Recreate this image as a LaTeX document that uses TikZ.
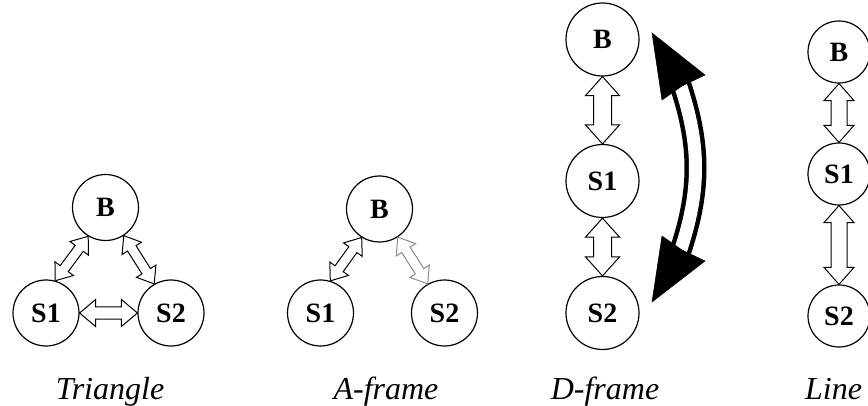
\documentclass[tikz,border=0pt]{standalone}
\usepackage{fontspec}
\setmainfont{Liberation Serif}
\usetikzlibrary{calc}
\newcommand\dblarr[6]{%
  \path (#2) coordinate (da) (#3) coordinate (db);
  \coordinate (dah) at ($(da)!#6!(db)$);
  \coordinate (dbh) at ($(db)!#6!(da)$);
  \draw[#1] (da) -- ($(dah)!#5!90:(db)$) -- ($(dah)!#4!90:(db)$)
    -- ($(dbh)!#4!-90:(da)$) -- ($(dbh)!#5!-90:(da)$) -- (db)
    -- ($(dbh)!#5!90:(da)$) -- ($(dbh)!#4!90:(da)$)
    -- ($(dah)!#4!-90:(db)$) -- ($(dah)!#5!-90:(db)$) -- cycle;
}
\tikzset{
  st/.style={circle, draw, line width=1.2pt, inner sep=0pt, minimum size=66pt,
    font=\fontsize{28}{28}\selectfont\bfseries},
  stbig/.style={st, minimum size=73pt},
  stsmall/.style={st, minimum size=62pt},
  arr/.style={draw=black, fill=white, line width=1pt, line join=miter},
  arrgray/.style={draw=black!45, fill=white, line width=1pt, line join=miter},
  lab/.style={font=\fontsize{32}{32}\selectfont\itshape, anchor=base, inner sep=0pt},
  bigshaft/.style={line width=4.5pt, double=white, double distance=13pt},
  bighead/.style={fill=black, draw=black, line width=0.5pt, line join=miter}
}
\begin{document}
\begin{tikzpicture}[x=1pt,y=-1pt]
\useasboundingbox (0,0) rectangle (868,406);
% Triangle
\node[st] (tB) at (105.5,207.5) {B};
\node[st] (tS1) at (46,313) {S1};
\node[st] (tS2) at (171,313) {S2};
\dblarr{arr}{tS1.74}{tB.239}{5pt}{11.5pt}{15pt}
\dblarr{arr}{tB.303}{tS2.120}{5pt}{11.5pt}{15pt}
\dblarr{arr}{tS1.0}{tS2.180}{6pt}{13.5pt}{16pt}
\node[lab] (tL) at (110,399) {Triangle};
% A-frame
\node[st] (aB) at (379.5,209) {B};
\node[st] (aS1) at (320.5,313) {S1};
\node[st] (aS2) at (444.5,313) {S2};
\dblarr{arr}{aS1.73}{aB.238}{5pt}{11.5pt}{15pt}
\dblarr{arrgray}{aB.303}{aS2.120}{5pt}{11.5pt}{15pt}
\node[lab] (aL) at (386,399) {A-frame};
% D-frame
\node[stbig] (dB) at (602.5,39.5) {B};
\node[stbig] (dS1) at (602.5,181) {S1};
\node[stbig] (dS2) at (602.5,313) {S2};
\dblarr{arr}{dB.south}{dS1.north}{9pt}{17pt}{19pt}
\dblarr{arr}{dS1.south}{dS2.north}{9pt}{17pt}{19pt}
\coordinate (cs) at (679,81);
\coordinate (ce) at (679,255);
\coordinate (ctT) at (652,33);
\coordinate (ctB) at (652,302);
\draw[bigshaft] (cs) .. controls (701,145) and (701,191) .. (ce);
\path[bighead] (ctT) -- (705,75) -- (682,86) -- (662,100) -- cycle;
\path[bighead] (ctB) -- (705,261) -- (682,250) -- (662,236) -- cycle;
\node[lab] (dL) at (605,399) {D-frame};
% Line
\node[stsmall] (lB) at (839,52) {B};
\node[stsmall] (lS1) at (839,174) {S1};
\node[stsmall] (lS2) at (839,316) {S2};
\dblarr{arr}{lB.south}{lS1.north}{8pt}{15pt}{17pt}
\dblarr{arr}{lS1.south}{lS2.north}{8pt}{15pt}{17pt}
\node[lab, anchor=base west] (lL) at (805,399) {Line};
\end{tikzpicture}
\end{document}
